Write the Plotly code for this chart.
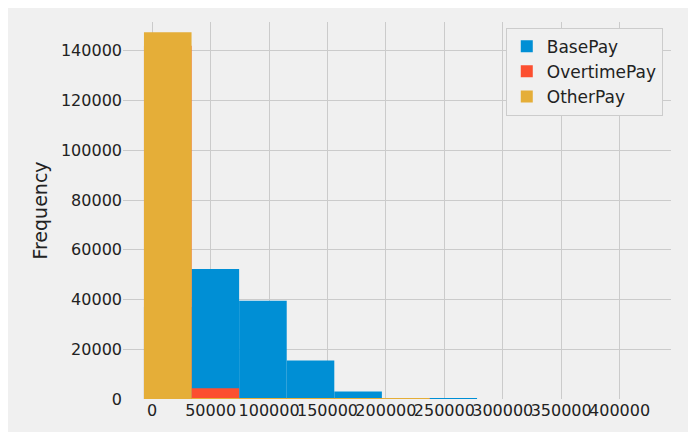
import plotly.graph_objects as go

bin_edges = [-7058, 33666, 74391, 115115, 155839, 196563, 237288, 278012, 318736, 359460, 400184]
series_names = ["BasePay", "OvertimePay", "OtherPay"]
base_pay = [37000, 52300, 39500, 15500, 3000, 200, 20, 0, 0, 0]
overtime_pay = [142000, 4300, 300, 60, 15, 5, 0, 0, 0, 0]
other_pay = [147500, 400, 100, 40, 10, 4, 0, 0, 0, 0]
colors = ["#008fd5", "#fc4f30", "#e5ae38"]

centers = [(a + b) / 2 for a, b in zip(bin_edges[:-1], bin_edges[1:])]
widths = [b - a for a, b in zip(bin_edges[:-1], bin_edges[1:])]

fig = go.Figure()
for name, vals, c in zip(series_names, [base_pay, overtime_pay, other_pay], colors):
    fig.add_bar(x=centers, y=vals, width=widths, name=name, marker=dict(color=c, line=dict(width=0)))

ax = dict(showgrid=True, gridcolor="#cbcbcb", gridwidth=1.3, zeroline=False, showline=False,
          ticks="", tickfont=dict(size=16, color="#222"), automargin=False)
fig.update_layout(
    width=696, height=432, barmode="overlay",
    paper_bgcolor="#f0f0f0", plot_bgcolor="#f0f0f0",
    font=dict(family="DejaVu Sans", color="#222"),
    margin=dict(l=115, r=33, t=14, b=41),
    xaxis=dict(ax, range=[-25000, 444000], tickangle=0, tickvals=list(range(0, 400001, 50000)),
               ticktext=[str(v) for v in range(0, 400001, 50000)]),
    yaxis=dict(ax, range=[0, 151600], tickvals=list(range(0, 140001, 20000)),
               ticktext=[str(v) for v in range(0, 140001, 20000)],
               title=dict(text="Frequency", font=dict(size=19), standoff=8)),
    legend=dict(x=0.985, y=0.985, xanchor="right", yanchor="top", bgcolor="#f0f0f0",
                bordercolor="#cccccc", borderwidth=1, font=dict(size=17)),
)
fig.write_html("out.html")
